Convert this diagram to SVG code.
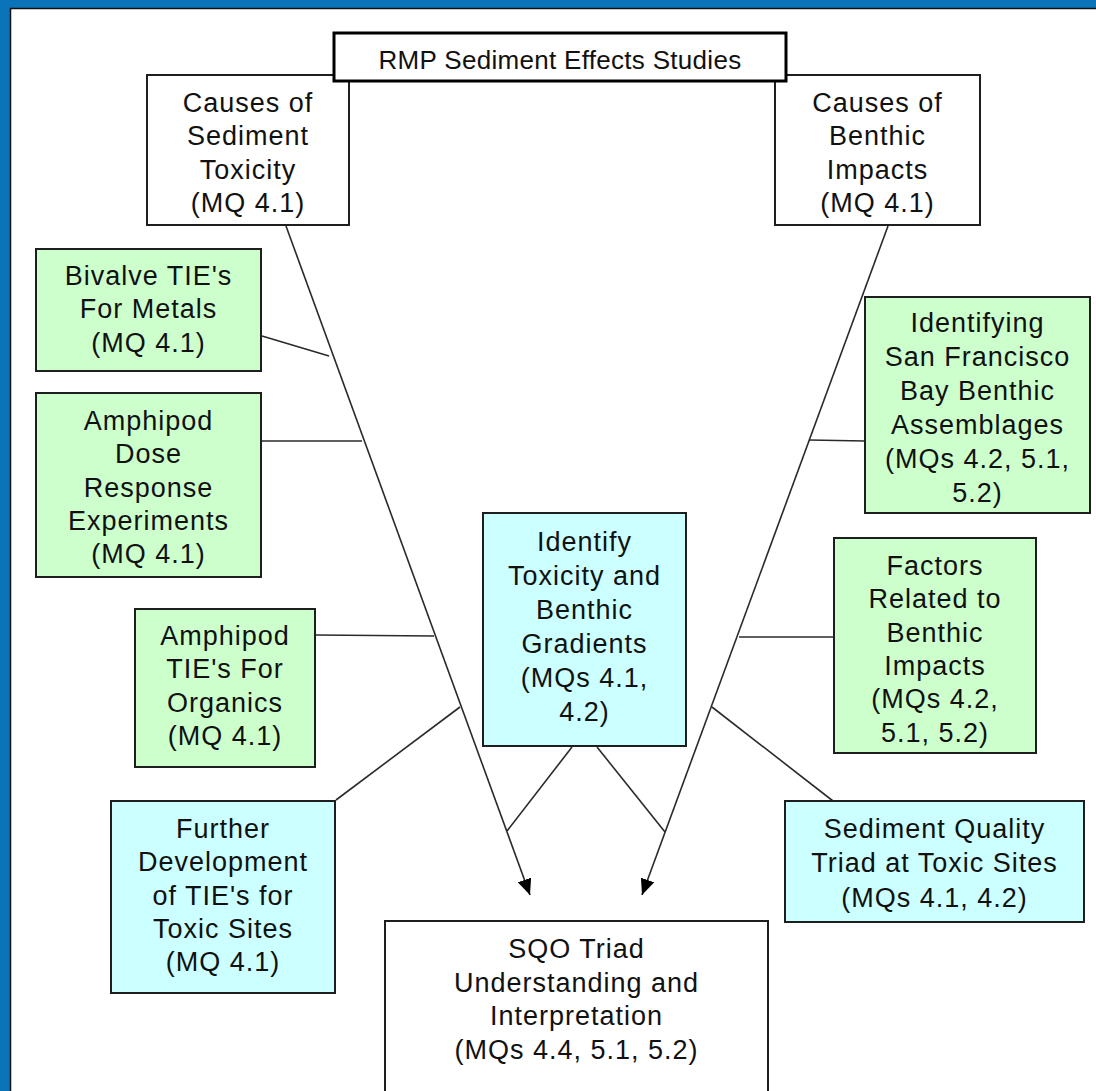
<svg xmlns="http://www.w3.org/2000/svg" width="1096" height="1091" viewBox="0 0 1096 1091">
<defs>
<style>
.box{stroke:#1e1e1e;stroke-width:2}
.w{fill:#ffffff}
.g{fill:#ccffcc}
.c{fill:#ccffff}
.t{font-family:"Liberation Sans",Arial,sans-serif;font-size:27px;letter-spacing:1px;fill:#111;text-anchor:middle}
.conn{stroke:#2a2a2a;stroke-width:1.6;fill:none}
</style>
<marker id="arr" viewBox="0 0 16 14" refX="16" refY="7" markerWidth="16" markerHeight="14" markerUnits="userSpaceOnUse" orient="auto">
<path d="M0,0 L16,7 L0,14 z" fill="#000"/>
</marker>
</defs>
<rect x="0" y="0" width="1096" height="1091" fill="#ffffff"/>
<rect x="0" y="0" width="1096" height="8" fill="#0b74b9"/>
<rect x="0" y="0" width="10" height="1091" fill="#0b74b9"/>
<line x1="10" y1="8.5" x2="1096" y2="8.5" stroke="#111" stroke-width="1.5"/>
<line x1="10.5" y1="8" x2="10.5" y2="1091" stroke="#111" stroke-width="1.5"/>

<g id="causes-sediment">
<rect class="box w" x="147" y="75" width="202" height="150"/>
<text class="t"><tspan x="248" y="112">Causes of</tspan><tspan x="248" y="145.3">Sediment</tspan><tspan x="248" y="178.6">Toxicity</tspan><tspan x="248" y="212">(MQ 4.1)</tspan></text>
</g>
<g id="causes-benthic">
<rect class="box w" x="775" y="75" width="205" height="150"/>
<text class="t"><tspan x="877.5" y="112">Causes of</tspan><tspan x="877.5" y="145.3">Benthic</tspan><tspan x="877.5" y="178.6">Impacts</tspan><tspan x="877.5" y="212">(MQ 4.1)</tspan></text>
</g>
<g id="title">
<rect x="334" y="33" width="452" height="48" fill="#ffffff" stroke="#000" stroke-width="3"/>
<text class="t" style="font-size:26px;letter-spacing:0.3px" x="560" y="69">RMP Sediment Effects Studies</text>
</g>

<g id="connectors">
<line class="conn" x1="286" y1="226" x2="530" y2="895" marker-end="url(#arr)"/>
<line class="conn" x1="888" y1="226" x2="642" y2="895" marker-end="url(#arr)"/>
<line class="conn" x1="262" y1="336" x2="329" y2="356"/>
<line class="conn" x1="262" y1="441" x2="362" y2="441"/>
<line class="conn" x1="316" y1="635" x2="434" y2="636"/>
<line class="conn" x1="336" y1="800" x2="460" y2="707"/>
<line class="conn" x1="572" y1="747" x2="507" y2="831"/>
<line class="conn" x1="597" y1="747" x2="665" y2="832"/>
<line class="conn" x1="809" y1="440" x2="865" y2="441"/>
<line class="conn" x1="739" y1="637" x2="834" y2="637"/>
<line class="conn" x1="712" y1="707" x2="833" y2="801"/>
</g>

<g id="bivalve">
<rect class="box g" x="36" y="249" width="225" height="122"/>
<text class="t"><tspan x="148.5" y="285">Bivalve TIE's</tspan><tspan x="148.5" y="318.3">For Metals</tspan><tspan x="148.5" y="351.6">(MQ 4.1)</tspan></text>
</g>
<g id="amphipod-dose">
<rect class="box g" x="36" y="393" width="225" height="184"/>
<text class="t"><tspan x="148.5" y="430">Amphipod</tspan><tspan x="148.5" y="463.3">Dose</tspan><tspan x="148.5" y="496.6">Response</tspan><tspan x="148.5" y="530">Experiments</tspan><tspan x="148.5" y="563.3">(MQ 4.1)</tspan></text>
</g>
<g id="amphipod-tie">
<rect class="box g" x="135" y="609" width="180" height="158"/>
<text class="t"><tspan x="225" y="645">Amphipod</tspan><tspan x="225" y="678.3">TIE's For</tspan><tspan x="225" y="711.6">Organics</tspan><tspan x="225" y="745">(MQ 4.1)</tspan></text>
</g>
<g id="further-development">
<rect class="box c" x="111" y="801" width="224" height="192"/>
<text class="t"><tspan x="223" y="838">Further</tspan><tspan x="223" y="871.3">Development</tspan><tspan x="223" y="904.6">of TIE's for</tspan><tspan x="223" y="938">Toxic Sites</tspan><tspan x="223" y="971">(MQ 4.1)</tspan></text>
</g>
<g id="identify-gradients">
<rect class="box c" x="483" y="513" width="203" height="233"/>
<text class="t"><tspan x="584.5" y="551">Identify</tspan><tspan x="584.5" y="585">Toxicity and</tspan><tspan x="584.5" y="619">Benthic</tspan><tspan x="584.5" y="653">Gradients</tspan><tspan x="584.5" y="687">(MQs 4.1,</tspan><tspan x="584.5" y="721">4.2)</tspan></text>
</g>
<g id="identifying-sf">
<rect class="box g" x="865" y="297" width="225" height="216"/>
<text class="t"><tspan x="977.5" y="332">Identifying</tspan><tspan x="977.5" y="366">San Francisco</tspan><tspan x="977.5" y="400">Bay Benthic</tspan><tspan x="977.5" y="434">Assemblages</tspan><tspan x="977.5" y="468">(MQs 4.2, 5.1,</tspan><tspan x="977.5" y="502">5.2)</tspan></text>
</g>
<g id="factors">
<rect class="box g" x="834" y="538" width="202" height="215"/>
<text class="t"><tspan x="935" y="575">Factors</tspan><tspan x="935" y="608.3">Related to</tspan><tspan x="935" y="641.6">Benthic</tspan><tspan x="935" y="675">Impacts</tspan><tspan x="935" y="708.3">(MQs 4.2,</tspan><tspan x="935" y="741.6">5.1, 5.2)</tspan></text>
</g>
<g id="triad-toxic">
<rect class="box c" x="785" y="801" width="299" height="121"/>
<text class="t"><tspan x="934.5" y="838">Sediment Quality</tspan><tspan x="934.5" y="872.3">Triad at Toxic Sites</tspan><tspan x="934.5" y="906.6">(MQs 4.1, 4.2)</tspan></text>
</g>
<g id="sqo-triad">
<rect class="box w" x="385" y="921" width="383" height="190"/>
<text class="t"><tspan x="576.5" y="958">SQO Triad</tspan><tspan x="576.5" y="991.5">Understanding and</tspan><tspan x="576.5" y="1025">Interpretation</tspan><tspan x="576.5" y="1058.5">(MQs 4.4, 5.1, 5.2)</tspan></text>
</g>
</svg>
